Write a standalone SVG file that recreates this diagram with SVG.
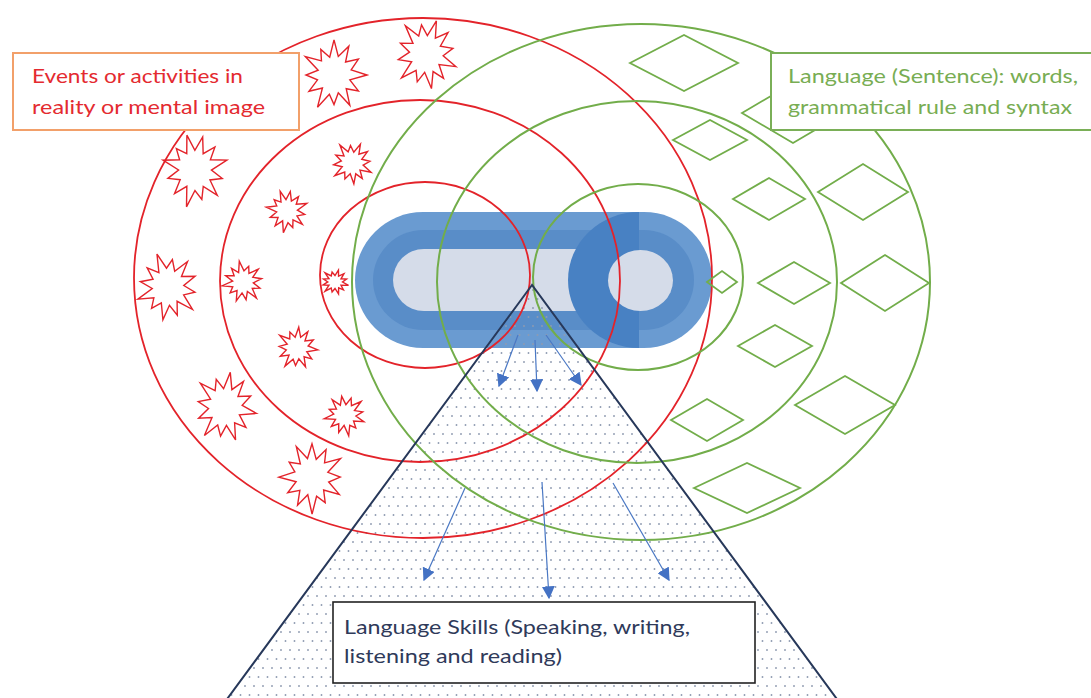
<svg xmlns="http://www.w3.org/2000/svg" xmlns:xlink="http://www.w3.org/1999/xlink" width="1091" height="698" viewBox="0 0 1091 698">
<style>
.red{fill:none;stroke:#e3232a;stroke-width:1.8}
.grn{fill:none;stroke:#72ad4a;stroke-width:2}
.dia{fill:none;stroke:#72ad4a;stroke-width:1.8}
.star{fill:none;stroke:#e3232a;stroke-width:1.4}
.arr{fill:none;stroke:#4a78c4;stroke-width:1.2}
.lbl{font-family:Lato,"Open Sans","Liberation Sans",sans-serif;font-size:20px}
</style>
<defs>
<pattern id="dots" width="9" height="18" patternUnits="userSpaceOnUse">
<circle cx="2" cy="2" r="0.95" fill="#8e9ab0"/>
<circle cx="6.5" cy="11" r="0.95" fill="#8e9ab0"/>
</pattern>
<path id="star" vector-effect="non-scaling-stroke" d="M100,0 L48,13 L74,43 L37,37 L48,82 L13,48 L0,80 L-14,52 L-50,87 L-35,35 L-76,44 L-50,13 L-85,0 L-48,-13 L-87,-50 L-38,-38 L-40,-69 L-13,-48 L0,-95 L13,-50 L45,-78 L35,-35 L74,-43 L52,-14 Z"/>
<marker id="ah" viewBox="0 0 10 10" refX="9" refY="5" markerWidth="13" markerHeight="13" markerUnits="userSpaceOnUse" orient="auto">
<path d="M0,0 L10,5 L0,10 Z" fill="#4472c4"/>
</marker>
</defs>

<g id="pill">
<rect x="355" y="212" width="357" height="136" rx="68" fill="#6a9bd1"/>
<rect x="373" y="230" width="321" height="100" rx="50" fill="#598dc8"/>
<rect x="393" y="249" width="230" height="62" rx="31" fill="#d5dce9"/>
<path d="M639,212 A71,68 0 0 0 639,348 Z" fill="#4881c3"/>
<ellipse cx="640.5" cy="280.5" rx="32.5" ry="30.5" fill="#d5dce9"/>
</g>

<g id="triangle-fill">
<polygon points="532,285 219,710 845,710" fill="url(#dots)"/>
</g>

<g id="events">
<ellipse class="red" cx="423" cy="278" rx="289" ry="260"/>
<ellipse class="red" cx="420" cy="281" rx="200" ry="181"/>
<ellipse class="red" cx="425" cy="275" rx="105" ry="93"/>
<g class="star">
<use xlink:href="#star" transform="translate(334,75) scale(0.33,0.37)"/>
<use xlink:href="#star" transform="translate(426,54) scale(0.32,0.37) rotate(20)"/>
<use xlink:href="#star" transform="translate(195,170) scale(0.33,0.38) rotate(-15)"/>
<use xlink:href="#star" transform="translate(168,287) scale(0.32,0.35) rotate(40)"/>
<use xlink:href="#star" transform="translate(225,407) scale(0.32,0.37) rotate(10)"/>
<use xlink:href="#star" transform="translate(312,477) scale(0.33,0.37) rotate(-30)"/>
<use xlink:href="#star" transform="translate(352,163) scale(0.21,0.22) rotate(25)"/>
<use xlink:href="#star" transform="translate(287,211) scale(0.21,0.22) rotate(-20)"/>
<use xlink:href="#star" transform="translate(243,282) scale(0.21,0.21) rotate(50)"/>
<use xlink:href="#star" transform="translate(297,348) scale(0.21,0.22) rotate(5)"/>
<use xlink:href="#star" transform="translate(345,415) scale(0.21,0.21) rotate(-40)"/>
<use xlink:href="#star" transform="translate(335,282) scale(0.14,0.13) rotate(15)"/>
</g>
</g>

<g id="language">
<ellipse class="grn" cx="641" cy="282" rx="289" ry="258"/>
<ellipse class="grn" cx="637" cy="282" rx="200" ry="181"/>
<ellipse class="grn" cx="638" cy="277" rx="105" ry="93"/>
<polygon class="dia" points="630,63 684,35 738,63 684,91"/>
<polygon class="dia" points="742,113 793,83 844,113 793,143"/>
<polygon class="dia" points="818,192 863,164 908,192 863,220"/>
<polygon class="dia" points="841,283 885,255 929,283 885,311"/>
<polygon class="dia" points="795,405 845,376 895,405 845,434"/>
<polygon class="dia" points="694,488 747,463 800,488 747,513"/>
<polygon class="dia" points="673,140 710,120 747,140 710,160"/>
<polygon class="dia" points="733,199 769,178 805,199 769,220"/>
<polygon class="dia" points="758,283 794,262 830,283 794,304"/>
<polygon class="dia" points="738,346 775,325 812,346 775,367"/>
<polygon class="dia" points="671,420 707,399 743,420 707,441"/>
<polygon class="dia" points="707,282 722,271 737,282 722,293"/>
</g>

<g id="triangle">
<polygon points="532,285 219,710 845,710" fill="none" stroke="#27385a" stroke-width="2"/>
</g>

<g id="connectors">
<line class="arr" x1="518" y1="335" x2="499" y2="386" marker-end="url(#ah)"/>
<line class="arr" x1="535" y1="340" x2="537" y2="391" marker-end="url(#ah)"/>
<line class="arr" x1="546" y1="335" x2="581" y2="385" marker-end="url(#ah)"/>
<line class="arr" x1="465" y1="488" x2="424" y2="580" marker-end="url(#ah)"/>
<line class="arr" x1="542" y1="482" x2="549" y2="598" marker-end="url(#ah)"/>
<line class="arr" x1="613" y1="483" x2="669" y2="580" marker-end="url(#ah)"/>
</g>

<g id="box-events">
<rect x="13" y="53" width="286" height="77" fill="#fff" stroke="#f2a06a" stroke-width="2"/>
<text class="lbl" fill="#e42a30" lengthAdjust="spacingAndGlyphs"><tspan x="32" y="83" textLength="211" lengthAdjust="spacingAndGlyphs">Events or activities in</tspan><tspan x="32" y="114" textLength="233" lengthAdjust="spacingAndGlyphs">reality or mental image</tspan></text>
</g>

<g id="box-language">
<rect x="771" y="53" width="330" height="77" fill="#fff" stroke="#7aaf57" stroke-width="2"/>
<text class="lbl" fill="#78ad53"><tspan x="788" y="83" textLength="290" lengthAdjust="spacingAndGlyphs">Language (Sentence): words,</tspan><tspan x="788" y="114" textLength="284" lengthAdjust="spacingAndGlyphs">grammatical rule and syntax</tspan></text>
</g>

<g id="box-skills">
<rect x="333" y="602" width="422" height="81" fill="#fff" stroke="#222" stroke-width="1.6"/>
<text class="lbl" fill="#2f3a5a"><tspan x="344" y="634" textLength="346" lengthAdjust="spacingAndGlyphs">Language Skills (Speaking, writing,</tspan><tspan x="344" y="663" textLength="218" lengthAdjust="spacingAndGlyphs">listening and reading)</tspan></text>
</g>
</svg>
